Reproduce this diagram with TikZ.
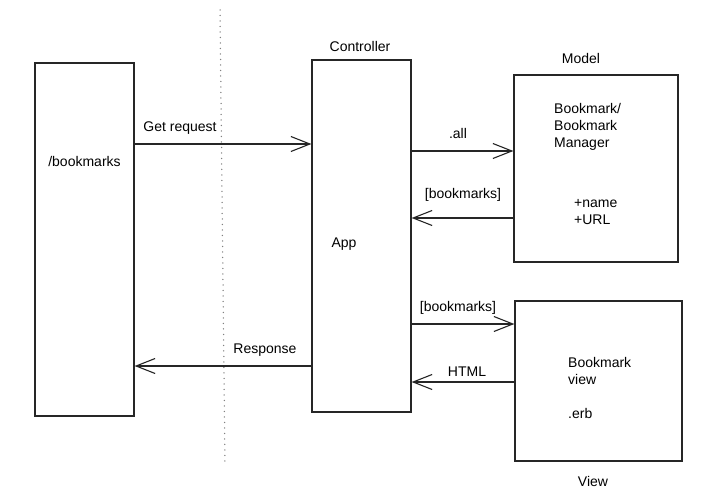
\documentclass[tikz,border=0pt]{standalone}
\usepackage{fontspec}
\setmainfont{Liberation Sans}
\usetikzlibrary{arrows.meta}

\begin{document}
\begin{tikzpicture}[x=1pt, y=-1pt, font=\fontsize{14}{17}\selectfont]
\useasboundingbox (0,0) rectangle (702,503);

\coordinate (R_get) at (0, 144);
\coordinate (R_all) at (0, 151);
\coordinate (R_list1) at (0, 218);
\coordinate (R_list2) at (0, 324);
\coordinate (R_html) at (0, 382);
\coordinate (R_resp) at (0, 366);


\tikzset{BoxStyle/.style = {draw = black!85, line width = 1.2pt, inner sep = 0pt} }

\node[BoxStyle, minimum width = 99pt, minimum height = 353pt] (Client) at (84.5, 239.5) {};
\node[BoxStyle, minimum width = 99pt, minimum height = 352pt] (App) at (361.5, 236) {};
\node[BoxStyle, minimum width = 164pt, minimum height = 187pt] (Model) at (596, 168.5) {};
\node[BoxStyle, minimum width = 167pt, minimum height = 160pt] (View) at (598.5, 381) {};

\draw[gray, line width = 1.5pt, line cap = round, dash pattern = on 0pt off 5.5pt] (220, 10) -- (225, 466);


\node (ClientText) at (84.5, 161) {/bookmarks};
\node (AppText) at (344, 244) {App};
\node (AppTitle) at (360, 46) {Controller};
\node (ModelTitle) at (581, 58) {Model};
\node (ViewTitle) at (593, 481) {View};
\node[anchor = west, align = left, inner sep = 0pt] (ModelText) at (554, 127) {Bookmark/\\Bookmark\\Manager};
\node[anchor = west, align = left, inner sep = 0pt] (ModelAttr) at (574, 212.5) {+name\\+URL};
\node[anchor = west, align = left, inner sep = 0pt] (ViewText) at (568, 387.5) {Bookmark\\view\\[17pt].erb};


\tikzset{ArrowStyle/.style = {draw = black!85, line width = 1.1pt,
 -{Straight Barb[length = 19pt, width = 15pt, line width = 1.1pt]}} }

\draw[ArrowStyle] (Client.east |- R_get) -- (App.west |- R_get);
\draw[ArrowStyle] (App.east |- R_all) -- (Model.west |- R_all);
\draw[ArrowStyle] (Model.west |- R_list1) -- (App.east |- R_list1);
\draw[ArrowStyle] (App.east |- R_list2) -- (View.west |- R_list2);
\draw[ArrowStyle] (View.west |- R_html) -- (App.east |- R_html);
\draw[ArrowStyle] (App.west |- R_resp) -- (Client.east |- R_resp);

\node (GetLabel) at (180, 128) {Get request};
\node (AllLabel) at (458, 133) {.all};
\node (ListLabel1) at (463, 195) {[bookmarks]};
\node (ListLabel2) at (458, 308) {[bookmarks]};
\node (HtmlLabel) at (467, 372) {HTML};
\node (RespLabel) at (265, 350) {Response};

\end{tikzpicture}
\end{document}
